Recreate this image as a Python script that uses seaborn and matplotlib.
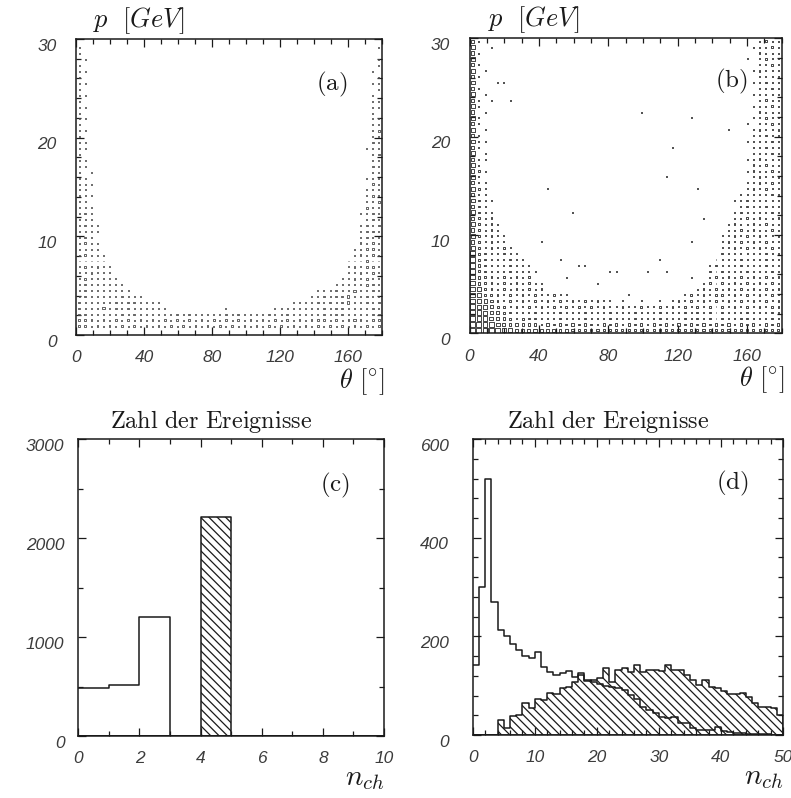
import matplotlib
matplotlib.use("Agg")
import matplotlib.pyplot as plt
import numpy as np
import pandas as pd
import seaborn as sns
from matplotlib.ticker import MultipleLocator
from matplotlib.transforms import ScaledTranslation

sns.set_style("ticks")
plt.rcParams["font.family"] = ["DejaVu Sans"]
plt.rcParams["mathtext.fontset"] = "cm"
plt.rcParams["hatch.linewidth"] = 0.9
plt.rcParams["hatch.color"] = "#1a1a1a"

INK = "#1a1a1a"
LABEL_INK = "#3c3c3c"

# %% Data
N_BINS = 50  # theta and p bins of the box plots

# Box size per cell (1..9), first string = top p bin, '.' = empty cell.
grid_a = [
    ".......... .......... .......... .......... ..........",
    "1......... .......... .......... .......... .........1",
    "1......... .......... .......... .......... ..........",
    ".1........ .......... .......... .......... .........1",
    "1......... .......... .......... .......... .........1",
    "11........ .......... .......... .......... ........1.",
    "1......... .......... .......... .......... .........1",
    "11........ .......... .......... .......... ........11",
    "1......... .......... .......... .......... .........1",
    "11........ .......... .......... .......... ........1.",
    "1......... .......... .......... .......... ........11",
    "11........ .......... .......... .......... ........11",
    "1......... .......... .......... .......... ........1.",
    "11........ .......... .......... .......... ........11",
    "1......... .......... .......... .......... ........11",
    "11........ .......... .......... .......... ........12",
    "1......... .......... .......... .......... ........11",
    "11........ .......... .......... .......... ........21",
    "11........ .......... .......... .......... .......111",
    "1......... .......... .......... .......... ........12",
    "11........ .......... .......... .......... ........11",
    "11........ .......... .......... .......... ........21",
    "1.1....... .......... .......... .......... ........11",
    "11........ .......... .......... .......... .......111",
    "111....... .......... .......... .......... ........21",
    "11........ .......... .......... .......... .......111",
    "111....... .......... .......... .......... .......121",
    "11........ .......... .......... .......... .......112",
    "111....... .......... .......... .......... .......211",
    "121....... .......... .......... .......... ......1121",
    "111....... .......... .......... .......... .......121",
    "1211...... .......... .......... .......... ......1212",
    "1111...... .......... .......... .......... ......2221",
    "121....... .......... .......... .......... ......1211",
    "1211...... .......... .......... .......... ......2121",
    "1111...... .......... .......... .......... .....11221",
    "12111..... .......... .......... .......... .....12121",
    "11111..... .......... .......... .......... ....111211",
    "121211.... .......... .......... .......... ....121221",
    "112111.... .......... .......... .......... ....112121",
    "1211111... .......... .......... .......... ...1121211",
    "12111211.. .......... .......... .......... ..11212321",
    "121212111. .......... .......... .........1 1121232121",
    "1212121211 1......... .......... ........11 2122321211",
    "2121212122 1111...... .......... .....11112 1212322212",
    "2121312121 21211..... ....1..... ..11112121 2122212121",
    "2212121212 1212112121 1211212112 1211212121 2122212122",
    "2321212121 2121212121 2121212121 2121212122 2121232122",
    "2212121212 1212121212 1212121212 1212121212 1212121212",
    ".......... .......... .......... .......... ..........",
]

grid_b = [
    "51........ .......... .......... .......... ......1211",
    "6..1...... .......... .......... .......... .....11121",
    "51........ .......... .......... .......... ......2111",
    "6......... .......... .......... .......... ....1.1211",
    "51........ .......... .......... .......... ......1121",
    "6.1....... .......... .......... .......... .....12111",
    "51........ .......... .......... .......... ......2112",
    "6...11.... .......... .......... .......... .....11211",
    "51........ .......... .......... .......... ......1121",
    "6.1....... .......... .......... .......... .....12112",
    "51.1..1... .......... .......... .......... ......1211",
    "61........ .......... .......... .......... .....11121",
    "5.1....... .......... .......1.. .......... ......2111",
    "61........ .......... .......... .....1.... .....11211",
    "51........ .......... .......... .......... ....1.1121",
    "6.1....... .......... .......... .......... .1...12112",
    "51........ .......... .......... .......... .....11211",
    "611....... .......... .......... .......... ....121121",
    "51........ .......... .......... ..1....... .....11211",
    "6.1....... .......... .......... .......... .....12121",
    "511....... .......... .......... .......... ....112111",
    "61........ .......... .......... .......... .....21211",
    "521....... .......... .......... .......... ....121121",
    "61........ .......... .......... .1........ .....12112",
    "511....... .......... .......... .......... ....112121",
    "621....... ..1....... .......... ......1... ....121211",
    "511....... .......... .......... .......... ...1121121",
    "6211...... .......... .......... .......... ..11212112",
    "521....... .......... .......... .......... ...1211211",
    "6211...... ......1... .......... .......... ..12121121",
    "5212...... .......... .......... .......1.. ..11212112",
    "62121..... .......... .......... .......... .121121211",
    "52121..... .......... .......... .......... .112121121",
    "621211.... .......... .......... .......... 1121212112",
    "521211.... .1........ .......... .....1.... 1212121211",
    "6212121... .......... .......... .......... 1121212121",
    "73221211.. .......... .......... .......... 2121121212",
    "732121212. ....1..... .......... 1........1 1212121211",
    "7321212121 .......11. .......... ........12 1212121212",
    "7321212121 1......... ..11....1. .1......21 2121212121",
    "7432121212 .....1.... .......... .....1..12 1212121212",
    "7432121212 11........ 1......... .......121 2121212121",
    "7532121212 12........ .......... ......1212 1212121212",
    "7643212121 211211.... .....1.... ....121212 2121212121",
    "7654212121 2121212121 211.1..1.. 1.12121212 1212121212",
    "8765321212 1212121212 1211211211 2121212121 2121212122",
    "8765432121 2121212121 2121212121 2121212121 2121212122",
    "8776543232 2121212121 2121212121 2121212121 2122212122",
    "9877654433 3232323232 2323232323 2323232323 2323232323",
    "9887766555 5554443333 3333333333 3333333333 3333333333",
]

# n_ch histograms (events per unit bin)
c_edges = list(range(0, 11))
c_open = [490, 515, 1200, 0, 0, 0, 0, 0, 0, 0]
c_hatched = [0, 0, 0, 0, 2215, 0, 0, 0, 0, 0]

d_edges = list(range(0, 51))
d_open = [142, 300, 520, 270, 213, 200, 185, 172, 160, 156,
          169, 138, 128, 122, 125, 130, 118, 125, 112, 108,
          104, 100, 98, 95, 91, 81, 73, 57, 51, 45,
          37, 34, 36, 24, 24, 14, 10, 10, 10, 17,
          8, 6, 5, 4, 3, 3, 2, 2, 1, 1]
d_hatched = [0, 0, 0, 0, 30, 15, 38, 40, 64, 55,
             74, 72, 86, 84, 96, 98, 108, 122, 110, 112,
             115, 135, 108, 132, 135, 128, 142, 128, 132, 132,
             130, 142, 132, 132, 121, 111, 101, 111, 98, 96,
             90, 84, 84, 85, 78, 64, 57, 56, 54, 40]


# %% Helpers
def grid_to_frame(rows):
    records = []
    n_rows = len(rows)
    for k, row in enumerate(rows):
        cells = row.replace(" ", "").ljust(N_BINS, ".")[:N_BINS]
        for j, ch in enumerate(cells):
            if ch != ".":
                records.append({
                    "theta": (j + 0.5) * 180 / N_BINS,
                    "p": (n_rows - 1 - k + 0.5) * 30 / n_rows,
                    "level": int(ch),
                })
    return pd.DataFrame(records)


def box_plot(ax, rows, color):
    frame = grid_to_frame(rows)
    sizes = {lvl: (0.3 + 0.41 * lvl) ** 2 for lvl in range(1, 10)}
    sns.scatterplot(data=frame, x="theta", y="p", size="level", sizes=sizes,
                    marker="s", color=color, linewidth=0.6, legend=False, ax=ax)
    boxes = ax.collections[-1]
    boxes.set_facecolor("none")
    boxes.set_edgecolor(color)


def step_hist(ax, edges, counts, hatched=False):
    table = pd.DataFrame({
        "nch": [(lo + hi) / 2 for lo, hi in zip(edges[:-1], edges[1:])],
        "events": counts,
    })
    if hatched:
        sns.histplot(data=table, x="nch", weights="events", bins=edges, element="step",
                     fill=True, color=INK, facecolor="none", edgecolor=INK,
                     hatch="\\\\\\\\", linewidth=1.1, ax=ax)
    else:
        sns.histplot(data=table, x="nch", weights="events", bins=edges, element="step",
                     fill=False, color=INK, linewidth=1.1, ax=ax)


def style_axes(ax, xlim, ylim, xticks, yticks, xminor, yminor, ypad):
    ax.set(xlabel="", ylabel="")
    ax.set_xlim(*xlim)
    ax.set_ylim(*ylim)
    label_kw = dict(fontstyle="italic", fontfamily="Liberation Sans",
                    fontsize=12.5, color=LABEL_INK)
    ax.set_xticks(xticks, [str(v) for v in xticks], **label_kw)
    ax.set_yticks(yticks, [str(v) for v in yticks], **label_kw)
    ax.xaxis.set_minor_locator(MultipleLocator(xminor))
    ax.yaxis.set_minor_locator(MultipleLocator(yminor))
    ax.tick_params(which="both", direction="in", top=True, right=True,
                   color=INK, width=0.9)
    ax.tick_params(which="major", length=6)
    ax.tick_params(which="minor", length=3.5)
    ax.tick_params(axis="x", which="major", pad=11)
    ax.tick_params(axis="y", which="major", pad=ypad)
    for spine in ax.spines.values():
        spine.set_visible(True)
        spine.set_linewidth(1.1)
        spine.set_color(INK)


# %% Figure
fig = plt.figure(figsize=(7.91, 7.98), dpi=100)
ax_a = fig.add_axes([0.0961, 0.5802, 0.3869, 0.3709])
ax_b = fig.add_axes([0.5936, 0.5823, 0.3944, 0.3697])
ax_c = fig.add_axes([0.0990, 0.0777, 0.3865, 0.3718])
ax_d = fig.add_axes([0.5976, 0.0789, 0.3923, 0.3709])

box_plot(ax_a, grid_a, "#4a4a4a")
box_plot(ax_b, grid_b, "#262626")

step_hist(ax_c, c_edges, c_open)
step_hist(ax_c, c_edges, c_hatched, hatched=True)
step_hist(ax_d, d_edges, d_open)
step_hist(ax_d, d_edges, d_hatched, hatched=True)

style_axes(ax_a, (0, 180), (0, 30), [0, 40, 80, 120, 160], [0, 10, 20, 30], 10, 2, 14)
style_axes(ax_b, (0, 180), (0, 30), [0, 40, 80, 120, 160], [0, 10, 20, 30], 10, 2, 14)
style_axes(ax_c, (0, 10), (0, 3000), [0, 2, 4, 6, 8, 10], [0, 1000, 2000, 3000], 1, 500, 10)
style_axes(ax_d, (0, 50), (0, 600), [0, 10, 20, 30, 40, 50], [0, 200, 400, 600], 2, 40, 17)

for ax, x0 in [(ax_a, 0.055), (ax_b, 0.058)]:
    ax.text(x0, 1.04, r"$p\ \ [GeV]$", transform=ax.transAxes, ha="left",
            va="baseline", fontsize=19, color=INK)
    ax.text(1.01, -0.18, r"$\theta\ [^{\circ}]$", transform=ax.transAxes,
            ha="right", va="baseline", fontsize=19, color=INK)

for ax in [ax_c, ax_d]:
    ax.text(0.435, 1.037, r"$\mathrm{Zahl\ der\ Ereignisse}$", transform=ax.transAxes,
            ha="center", va="baseline", fontsize=17.5, color=INK)
    ax.text(1.0, -0.165, r"$n_{ch}$", transform=ax.transAxes, ha="right",
            va="baseline", fontsize=21, color=INK)

for ax, tag, pos in [(ax_a, "a", (0.837, 0.848)), (ax_b, "b", (0.84, 0.853)),
                     (ax_c, "c", (0.84, 0.846)), (ax_d, "d", (0.837, 0.851))]:
    ax.text(pos[0], pos[1], rf"$\mathrm{{({tag})}}$", transform=ax.transAxes,
            ha="center", va="center", fontsize=18, color=INK)

# y labels sit a little below their ticks, as in the original print
shift = ScaledTranslation(0, -4 / 72, fig.dpi_scale_trans)
for ax in [ax_a, ax_b, ax_c, ax_d]:
    for label in ax.get_yticklabels():
        label.set_transform(label.get_transform() + shift)

fig.savefig("out.png", dpi=100)
